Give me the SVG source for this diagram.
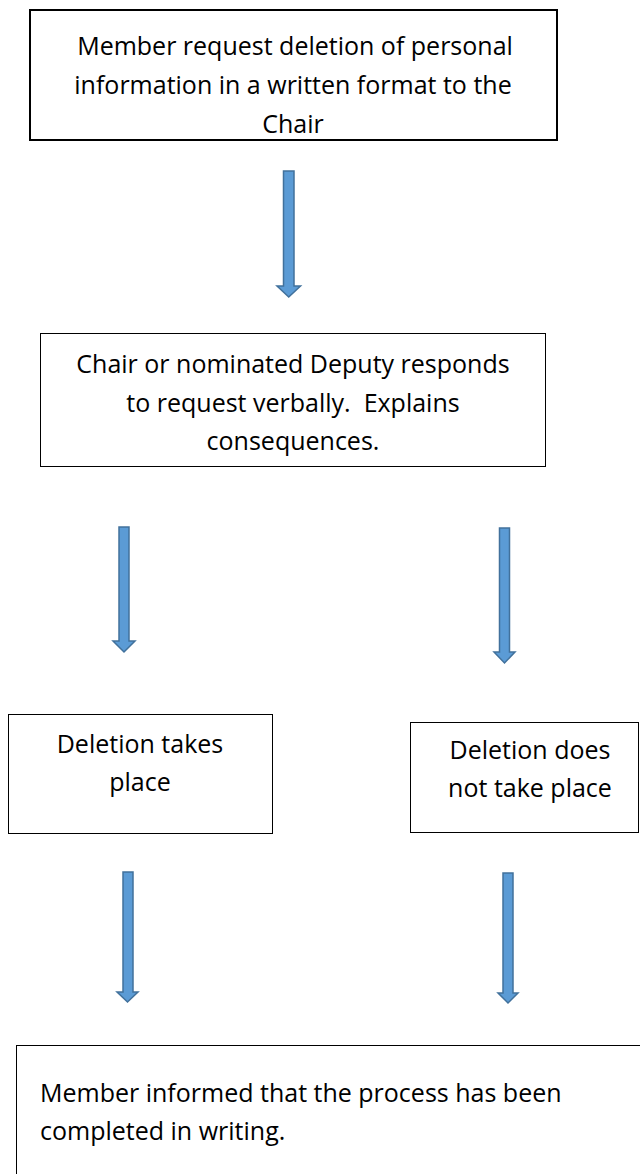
<svg xmlns="http://www.w3.org/2000/svg" width="640" height="1174" viewBox="0 0 640 1174">
<style>
.box{fill:#fff;stroke:#000;stroke-width:1}
.thick{stroke-width:2}
.t{font-family:"Open Sans","Liberation Sans",sans-serif;font-size:25px;fill:#000;white-space:pre}
.c{text-anchor:middle}
.arr{fill:#5B9BD5;stroke:#41719C;stroke-width:1.5;stroke-linejoin:miter}
</style>
<rect width="640" height="1174" fill="#fff"/>
<g id="connectors">
<path class="arr" d="M283.5,171 H294 V286 H300.5 L288.75,297 L277,286 H283.5 Z"/>
<path class="arr" d="M119,527 H129 V641 H135 L124,652 L113,641 H119 Z"/>
<path class="arr" d="M499.5,528 H509.5 V652 H515 L504.5,663 L494,652 H499.5 Z"/>
<path class="arr" d="M123,872 H133 V992 H138 L127.5,1002 L117,992 H123 Z"/>
<path class="arr" d="M503,873 H513 V993 H518 L508,1003 L498,993 H503 Z"/>
</g>
<g id="n1">
<rect class="box thick" x="30" y="10" width="527" height="130"/>
<text class="t c" x="295" y="55">Member request deletion of personal</text>
<text class="t c" x="293" y="94">information in a written format to the</text>
<text class="t c" x="293" y="133">Chair</text>
</g>
<g id="n2">
<rect class="box" x="40.5" y="333.5" width="505" height="133"/>
<text class="t c" x="293" y="373">Chair or nominated Deputy responds</text>
<text class="t c" x="293" y="412" xml:space="preserve">to request verbally.  Explains</text>
<text class="t c" x="293" y="450">consequences.</text>
</g>
<g id="n3">
<rect class="box" x="8.5" y="714.5" width="264" height="119"/>
<text class="t c" x="140" y="753">Deletion takes</text>
<text class="t c" x="140" y="791">place</text>
</g>
<g id="n4">
<rect class="box" x="410.5" y="722.5" width="228" height="110"/>
<text class="t c" x="530" y="759">Deletion does</text>
<text class="t c" x="530" y="797">not take place</text>
</g>
<g id="n5">
<rect class="box" x="16.5" y="1045.5" width="640" height="200"/>
<text class="t" x="40" y="1102">Member informed that the process has been</text>
<text class="t" x="40" y="1140">completed in writing.</text>
</g>
</svg>
